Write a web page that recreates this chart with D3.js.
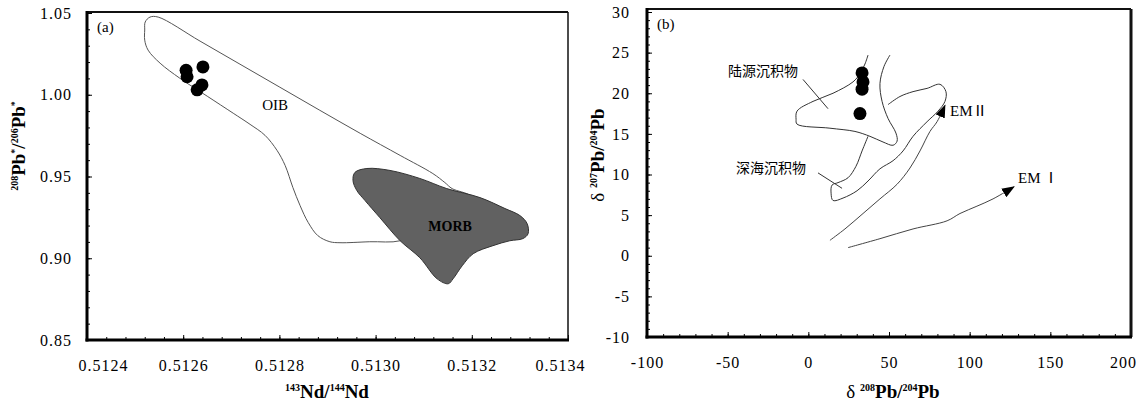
<!DOCTYPE html>
<html>
<head>
<meta charset="utf-8">
<script src="https://cdn.jsdelivr.net/npm/d3@7"></script>
<style>
  body { margin: 0; background: #fff; }
  svg { display: block; font-family: "Liberation Serif", "Times New Roman", serif; }
</style>
</head>
<body>
<svg id="chart" width="1148" height="401"></svg>
<script>
// ---- panel (a): 143Nd/144Nd vs 208Pb*/206Pb*
const ndTicks = [0.5124, 0.5126, 0.5128, 0.5130, 0.5132, 0.5134];
const pbStarTicks = [0.85, 0.90, 0.95, 1.00, 1.05];
const samplesA = [[0.512606, 1.015], [0.512608, 1.011], [0.512641, 1.017], [0.512629, 1.003], [0.512639, 1.006]];
const oibField = [
  [0.51252, 1.0396], [0.512521, 1.0445], [0.512531, 1.0475], [0.512548, 1.0475], [0.512635, 1.0328],
  [0.512718, 1.0187], [0.512801, 1.0046], [0.512884, 0.9905], [0.512968, 0.9764], [0.513051, 0.9629],
  [0.513119, 0.9518], [0.513144, 0.9463], [0.513159, 0.9426], [0.513196, 0.9383], [0.513196, 0.9353],
  [0.513092, 0.9169], [0.513051, 0.9107], [0.512988, 0.9101], [0.512926, 0.9095], [0.512905, 0.9101],
  [0.51288, 0.9138], [0.51286, 0.9218], [0.512843, 0.9322], [0.512828, 0.9433], [0.512812, 0.9567],
  [0.512795, 0.966], [0.51277, 0.9752], [0.512739, 0.9819], [0.512704, 0.9887], [0.51265, 0.9991],
  [0.512593, 1.0101], [0.512552, 1.0193], [0.512527, 1.0273], [0.51252, 1.0334]
];
const morbField = [
  [0.512953, 0.9475], [0.512961, 0.9414], [0.512978, 0.9353], [0.513009, 0.9248], [0.513051, 0.9107],
  [0.513092, 0.9003], [0.513128, 0.8874], [0.513151, 0.8844], [0.513161, 0.8874], [0.51318, 0.8954],
  [0.513203, 0.9028], [0.513244, 0.9077], [0.513279, 0.9107], [0.513306, 0.912], [0.513317, 0.915],
  [0.513315, 0.9212], [0.5133, 0.9261], [0.513269, 0.9304], [0.513217, 0.9371], [0.513148, 0.9426],
  [0.513092, 0.9488], [0.51303, 0.9537], [0.512982, 0.9549], [0.512957, 0.9525]
];
const labelsA = [
  { text: "OIB", at: [0.512791, 0.9936], bold: false },
  { text: "MORB", at: [0.513155, 0.9199], bold: true }
];

// ---- panel (b): δ208Pb/204Pb vs δ207Pb/204Pb
const d208Ticks = [-100, -50, 0, 50, 100, 150, 200];
const d207Ticks = [-10, -5, 0, 5, 10, 15, 20, 25, 30];
const samplesB = [[33.3, 22.5], [33.9, 21.4], [33.3, 20.5], [32.0, 17.5]];
const terrigenousLine = [
  [37, 24.7], [35.1, 23.6], [32, 22.4], [27.7, 21.4], [15.3, 20], [2.9, 19], [-7, 17.8], [-7.6, 16.8],
  [-7, 16.2], [13.4, 15.7], [28.9, 15.3], [38.2, 14.7], [46.3, 14.0], [52.5, 13.6], [55, 14.1],
  [54.3, 15.1], [49.4, 16.9], [45.7, 19.0], [44.4, 21.2], [46.9, 23.3], [50.6, 24.7]
];
const pelagicLine = [
  [37, 14.7], [33.3, 12.9], [29.5, 11.0], [24.6, 9.6], [18.4, 9.0], [14.7, 8.7], [14.1, 7.7], [15.3, 6.8],
  [21.5, 7.1], [30.2, 8.0], [37, 9.2], [44.4, 10.7], [52.5, 11.7], [58.7, 12.9], [64.9, 14.7],
  [73.6, 16.5], [80.4, 17.8], [84.7, 19.0], [85.3, 20.2], [81.6, 21.1], [73.6, 20.6], [64.9, 20.2],
  [56.8, 19.6], [49.4, 18.6]
];
const em2Line = [[13.4, 1.9], [22.7, 3.3], [33.9, 5.2], [44.4, 7.0], [55, 8.8], [63, 10.8], [69.2, 12.9], [75.4, 15.3], [79.8, 16.5], [84.7, 18.5]];
const em1Line = [[24.6, 1.0], [44.4, 2.1], [64.9, 3.3], [86, 4.3], [94, 5.2], [104.5, 6.1], [114.5, 7.0], [127.5, 8.5]];
const labelsB = [
  { text: "陆源沉积物", at: [-28.1, 22.7], leader: [[-3.3, 21.7], [12.2, 18.1]] },
  { text: "深海沉积物", at: [-23.1, 10.8], leader: [[6.0, 10.2], [20.9, 8.3]] }
];
const emLabels = [
  { text: "EM", num: "Ⅱ", gap: 0, at: [87.8, 17.8] },
  { text: "EM", num: "Ⅰ", gap: 3, at: [130.0, 9.6] }
];

const SERIF = "Liberation Serif, Times New Roman, serif";
const svg = d3.select("#chart");

svg.append("defs").append("marker")
  .attr("id", "arrow")
  .attr("markerUnits", "userSpaceOnUse")
  .attr("markerWidth", 14).attr("markerHeight", 10)
  .attr("refX", 12).attr("refY", 5)
  .attr("orient", "auto")
  .append("path").attr("d", "M0,0 L13,5 L0,10 Z").attr("fill", "#000");

// draws ticks (inward), labels and the box of one panel
function drawAxes(g, x, y, o) {
  const [x0, x1] = x.range(), [y0] = y.range();
  const style = a => a.attr("font-family", SERIF).attr("font-size", 16)
    .call(a => a.select(".domain").remove());

  g.append("g").attr("transform", `translate(0,${y0})`)
    .call(d3.axisBottom(x).tickValues(o.xMinor).tickSize(-3).tickFormat("")).call(style);
  const xa = g.append("g").attr("transform", `translate(0,${y0})`)
    .call(d3.axisBottom(x).tickValues(o.xTicks).tickSize(-5).tickPadding(20).tickFormat(o.xFmt)).call(style);
  xa.selectAll("text").attr("letter-spacing", 1);

  g.append("g").attr("transform", `translate(${x0},0)`)
    .call(d3.axisLeft(y).tickValues(o.yMinor).tickSize(-3).tickFormat("")).call(style);
  g.append("g").attr("transform", `translate(${x0},0)`)
    .call(d3.axisLeft(y).tickValues(o.yTicks).tickSize(-5).tickPadding(o.yPad).tickFormat(o.yFmt)).call(style)
    .selectAll("text").attr("letter-spacing", 1);

  if (o.firstDx) xa.selectAll(".tick text").filter(d => d === o.xTicks[0]).attr("dx", o.firstDx);
  xa.selectAll(".tick text").filter(d => d === o.xTicks[o.xTicks.length - 1]).attr("dx", o.lastDx);

  // frame
  g.append("line").attr("x1", x0).attr("x2", x1).attr("y1", o.top).attr("y2", o.top)
    .attr("stroke", "#111").attr("stroke-width", 2);
  g.append("line").attr("x1", x1).attr("x2", x1).attr("y1", o.top).attr("y2", y0)
    .attr("stroke", "#111").attr("stroke-width", o.rightW);
  g.append("line").attr("x1", x0).attr("x2", x0).attr("y1", o.top - 1).attr("y2", y0 + 1.5)
    .attr("stroke", "#000").attr("stroke-width", 3);
  g.append("line").attr("x1", x0 - 1.5).attr("x2", x1 + 1).attr("y1", y0).attr("y2", y0)
    .attr("stroke", "#000").attr("stroke-width", 3);

  g.append("text").attr("x", x0 + 10).attr("y", o.top + 20).attr("font-size", 15)
    .attr("font-family", SERIF).text(o.tag);
}

// axis title with small superscripts; parts = [[text, kind]] kind: "sup" | "b" | "n"
function title(g, parts, tx, ty, rotate) {
  const t = g.append("text")
    .attr("transform", `translate(${tx},${ty})` + (rotate ? " rotate(-90)" : ""))
    .attr("text-anchor", "middle").attr("font-family", SERIF).attr("font-size", 19);
  parts.forEach(([s, kind]) => {
    t.append("tspan")
      .attr("font-size", kind === "sup" ? 10 : 19)
      .attr("baseline-shift", kind === "sup" ? "75%" : null)
      .attr("font-weight", kind === "n" ? "normal" : "bold")
      .text(s);
  });
}

// ---------------- panel (a)
const gA = svg.append("g");
const xA = d3.scaleLinear().domain([0.5124, 0.5134]).range([87, 568]);
const yA = d3.scaleLinear().domain([0.85, 1.05]).range([340, 13]);
const lineA = d3.line().x(d => xA(d[0])).y(d => yA(d[1])).curve(d3.curveCatmullRomClosed.alpha(0.5));

gA.append("path").attr("d", lineA(oibField))
  .attr("fill", "none").attr("stroke", "#555").attr("stroke-width", 1);
gA.append("path").attr("d", lineA(morbField))
  .attr("fill", "#616161").attr("stroke", "#333").attr("stroke-width", 1);

gA.selectAll("text.lab").data(labelsA).join("text").attr("class", "lab")
  .attr("x", d => xA(d.at[0])).attr("y", d => yA(d.at[1]) + 5)
  .attr("text-anchor", "middle").attr("font-family", SERIF)
  .attr("font-size", d => d.bold ? 14 : 15)
  .attr("font-weight", d => d.bold ? "bold" : "normal")
  .text(d => d.text);

gA.selectAll("circle").data(samplesA).join("circle")
  .attr("cx", d => xA(d[0])).attr("cy", d => yA(d[1])).attr("r", 6.5).attr("fill", "#000");

drawAxes(gA, xA, yA, {
  xTicks: ndTicks, yTicks: pbStarTicks,
  xMinor: d3.range(0, 26).map(i => 0.5124 + i * 0.00004),
  yMinor: d3.range(0, 21).map(i => 0.85 + i * 0.01),
  xFmt: d3.format(".4f"), yFmt: d3.format(".2f"),
  yPad: 15, top: 12, rightW: 1.5, firstDx: 16, lastDx: -8, tag: "(a)"
});

title(gA, [["208", "sup"], ["Pb", "b"], ["*", "sup"], ["/", "b"], ["206", "sup"], ["Pb", "b"], ["*", "sup"]], 25, 146, true);
title(gA, [["143", "sup"], ["Nd/", "b"], ["144", "sup"], ["Nd", "b"]], 327, 398, false);

// ---------------- panel (b)
const gB = svg.append("g");
const xB = d3.scaleLinear().domain([-100, 200]).range([647, 1131]);
const yB = d3.scaleLinear().domain([-10, 30]).range([337, 12]);
const lineB = d3.line().x(d => xB(d[0])).y(d => yB(d[1])).curve(d3.curveCatmullRom.alpha(0.5));

[terrigenousLine, pelagicLine].forEach(pts => {
  gB.append("path").attr("d", lineB(pts))
    .attr("fill", "none").attr("stroke", "#333").attr("stroke-width", 1);
});
[em2Line, em1Line].forEach(pts => {
  gB.append("path").attr("d", lineB(pts))
    .attr("fill", "none").attr("stroke", "#444").attr("stroke-width", 1)
    .attr("marker-end", "url(#arrow)");
});

gB.selectAll("circle").data(samplesB).join("circle")
  .attr("cx", d => xB(d[0])).attr("cy", d => yB(d[1])).attr("r", 6.5).attr("fill", "#000");

labelsB.forEach(d => {
  gB.append("line")
    .attr("x1", xB(d.leader[0][0])).attr("y1", yB(d.leader[0][1]))
    .attr("x2", xB(d.leader[1][0])).attr("y2", yB(d.leader[1][1]))
    .attr("stroke", "#333").attr("stroke-width", 1);
  gB.append("text").attr("x", xB(d.at[0])).attr("y", yB(d.at[1]) + 5)
    .attr("text-anchor", "middle").attr("font-family", "'Noto Sans CJK SC', sans-serif")
    .attr("font-size", 14).text(d.text);
});
emLabels.forEach(d => {
  const t = gB.append("text")
    .attr("x", xB(d.at[0])).attr("y", yB(d.at[1]) + 5)
    .attr("font-family", SERIF).attr("font-size", 15);
  t.append("tspan").text(d.text);
  t.append("tspan").attr("dx", d.gap).attr("font-family", "'Noto Sans CJK SC', serif").text(d.num);
});

drawAxes(gB, xB, yB, {
  xTicks: d208Ticks, yTicks: d207Ticks,
  xMinor: d3.range(-100, 201, 10),
  yMinor: d3.range(-10, 31, 1),
  xFmt: d => String(d), yFmt: d => String(d),
  yPad: 17, top: 9, rightW: 3, firstDx: 0, lastDx: -8, tag: "(b)"
});

title(gB, [["δ ", "n"], ["207", "sup"], ["Pb/", "b"], ["204", "sup"], ["Pb", "b"]], 604, 155, true);
title(gB, [["δ ", "n"], ["208", "sup"], ["Pb/", "b"], ["204", "sup"], ["Pb", "b"]], 893, 398, false);
</script>
</body>
</html>
